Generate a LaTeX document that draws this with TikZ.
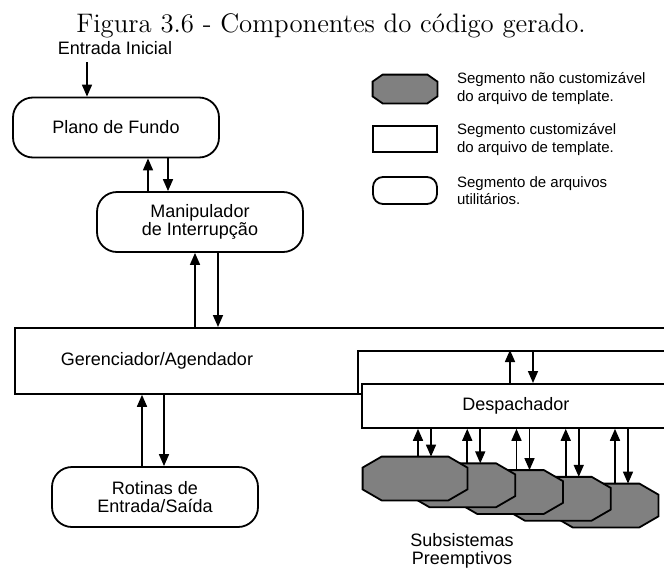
\documentclass[tikz,border=0pt]{standalone}
\usepackage{fontspec}
\newfontfamily\arialfont{Liberation Sans}
\usetikzlibrary{arrows.meta}

\tikzset{
  arr/.style={-{Triangle[length=6pt,width=5pt]}, line width=0.8pt},
  utilbox/.style={draw, line width=0.9pt, rounded corners=10pt, minimum width=103pt, minimum height=30pt, align=center, font=\arialfont\fontsize{9}{8.7}\selectfont},
  custbox/.style={draw, fill=white, line width=0.9pt, inner sep=0pt, font=\arialfont\fontsize{9}{8.7}\selectfont},
  fixseg/.style={minimum width=52pt, minimum height=21.5pt, inner sep=0pt},
  segline/.style={draw, fill=black!50, line width=0.9pt, line join=miter},
  legtext/.style={anchor=west, align=left, font=\arialfont\fontsize{7.5}{8.6}\selectfont},
}
% octagon round a named node: #1 node, #2 cut in x, #3 cut in y
\newcommand{\drawoctagon}[3]{%
  \path[segline] ([xshift=#2]#1.north west) -- ([xshift=-#2]#1.north east)
    -- ([yshift=-#3]#1.north east) -- ([yshift=#3]#1.south east)
    -- ([xshift=-#2]#1.south east) -- ([xshift=#2]#1.south west)
    -- ([yshift=#3]#1.south west) -- ([yshift=-#3]#1.north west) -- cycle;}

\begin{document}
\begin{tikzpicture}[x=0.5pt,y=-0.5pt]
\clip (0,0) rectangle (664,568);
% title
\node (title) at (331,26) {\fontsize{13.4}{15}\selectfont Figura 3.6 - Componentes do c\'odigo gerado.};

% left column
\node[font=\arialfont\fontsize{9}{8.7}\selectfont] (entrada) at (115,48) {Entrada Inicial};
\coordinate (entry) at (87,62);
\node[utilbox] (plano) at (116,127.5) {Plano de Fundo};
\node[utilbox] (mani) at (200,222) {Manipulador\\de Interrupção};
\node[utilbox] (rotinas) at (155,497) {Rotinas de\\Entrada/Saída};

% scheduler and dispatcher
\node[custbox, anchor=north west, minimum height=33pt, text width=282pt, inner xsep=23pt, align=left] (ger) at (14,327) {Gerenciador/Agendador};
\node[custbox, anchor=north west, minimum width=156pt, minimum height=21.5pt] (gerlayer) at (357,350) {};
\node[custbox, anchor=north west, minimum width=154pt, minimum height=22pt] (desp) at (361,383) {Despachador};

% preemptive subsystems
\foreach \k in {4,3,2,1,0} {
    \node[fixseg] (sub\k) at ({415+47.75*\k},{478.5+6.75*\k}) {};
    \drawoctagon{sub\k}{9.5pt}{5.5pt}
}
\node[align=center, font=\arialfont\fontsize{9}{8.7}\selectfont] (subtxt) at (462,551) {Subsistemas\\Preemptivos};

% connectors
\draw[arr] (entry) -- (plano.north -| entry);
\draw[arr] (mani.north -| 148,0) -- (plano.south -| 148,0);
\draw[arr] (plano.south -| 168,0) -- (mani.north -| 168,0);
\draw[arr] (ger.north -| 195,0) -- (mani.south -| 195,0);
\draw[arr] (mani.south -| 218,0) -- (ger.north -| 218,0);
\draw[arr] (rotinas.north -| 142,0) -- (ger.south -| 142,0);
\draw[arr] (ger.south -| 164,0) -- (rotinas.north -| 164,0);
\draw[arr] (desp.north -| 510,0) -- (gerlayer.north -| 510,0);
\draw[arr] (gerlayer.north -| 533,0) -- (desp.north -| 533,0);
\foreach \k [evaluate=\k as \ux using 418+49.25*\k, evaluate=\k as \dx using 431+49.25*\k] in {0,...,4} {
    \draw[arr] (sub\k.north -| \ux,0) -- (desp.south -| \ux,0);
    \draw[arr] (desp.south -| \dx,0) -- (sub\k.north -| \dx,0);
}

% legend
\node[fixseg, minimum width=32pt, minimum height=14pt] (legfix) at (405,89) {};
\drawoctagon{legfix}{5pt}{3.5pt}
\node[custbox, minimum width=32pt, minimum height=13pt] (legcust) at (405,139) {};
\node[draw, line width=0.9pt, rounded corners=5pt, minimum width=32pt, minimum height=13.5pt] (legutil) at (405,190.5) {};
\node[legtext] (legfixtxt) at (450,88.5) {Segmento não customizável\\do arquivo de template.};
\node[legtext] (legcusttxt) at (450,139.5) {Segmento customizável\\do arquivo de template.};
\node[legtext] (legutiltxt) at (450,190.5) {Segmento de arquivos\\utilitários.};
\end{tikzpicture}
\end{document}
